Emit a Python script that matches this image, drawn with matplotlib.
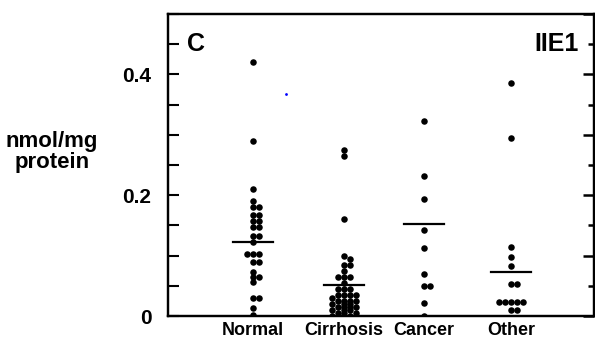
import numpy as np
import matplotlib
matplotlib.use("Agg")
import matplotlib.pyplot as plt
from matplotlib.ticker import MultipleLocator

plt.rcParams['font.family'] = ['Liberation Sans', 'DejaVu Sans']
plt.rcParams['font.weight'] = 'bold'

# Datos (nmol/mg proteina)
categorias = ["Normal", "Cirrhosis", "Cancer", "Other"]
normal = [0.42, 0.29, 0.21, 0.19, 0.18, 0.18, 0.168, 0.168, 0.157, 0.157,
          0.147, 0.147, 0.132, 0.132, 0.123, 0.102, 0.102, 0.102, 0.09, 0.09,
          0.073, 0.065, 0.065, 0.057, 0.03, 0.03, 0.013, 0.002]
cirrhosis = [0.275, 0.265, 0.16, 0.10, 0.095, 0.085, 0.085, 0.075, 0.065, 0.065,
             0.065, 0.055, 0.045, 0.045, 0.045, 0.035, 0.035, 0.035, 0.035, 0.03,
             0.025, 0.025, 0.025, 0.025, 0.02, 0.02, 0.02, 0.015, 0.015, 0.015,
             0.015, 0.01, 0.01, 0.01, 0.005, 0.005, 0.005, 0.0, 0.0]
cancer = [0.323, 0.232, 0.193, 0.143, 0.113, 0.07, 0.05, 0.05, 0.022, 0.0]
other = [0.385, 0.295, 0.115, 0.097, 0.082, 0.053, 0.053,
         0.023, 0.023, 0.023, 0.023, 0.023, 0.01, 0.01]
medias = [0.122, 0.052, 0.153, 0.073]
grupos = [normal, cirrhosis, cancer, other]

# Posiciones de las categorias en el eje x
pos = [1.0, 2.06, 3.0, 4.03]

W, H = 595, 345
fig = plt.figure(figsize=(W / 100, H / 100), dpi=100)
ax = fig.add_axes([168 / W, 29 / H, 426 / W, 302 / H])
xmin, xmax, ymin, ymax = 0, 5, 0, 0.5
ax.set_xlim(xmin, xmax)
ax.set_ylim(ymin, ymax)

px_x = 426 / (xmax - xmin)
px_y = 302 / (ymax - ymin)


def enjambre(vals, paso=6.0, choque=4.5, maxoff=15):
    # desplazamientos horizontales (en pixeles) para que los puntos no se tapen
    orden = np.argsort(vals)[::-1]
    puestos = []
    offs = np.zeros(len(vals))
    for i in orden:
        y = vals[i] * px_y
        cands = [0.0]
        k = 1
        while k * paso <= maxoff:
            cands += [k * paso, -k * paso]
            k += 1
        mejor, mejor_d = 0.0, -1
        for c in cands:
            dmin = min([np.hypot(c - ox, y - oy) for ox, oy in puestos] + [99])
            if dmin >= choque:
                mejor = c
                break
            if dmin > mejor_d:
                mejor, mejor_d = c, dmin
        puestos.append((mejor, y))
        offs[i] = mejor
    return offs


for p, vals, m in zip(pos, grupos, medias):
    vals = np.array(vals)
    xs = p + enjambre(vals) / px_x
    ax.scatter(xs, vals, s=22, color="black", zorder=3, linewidths=0)
    ax.plot([p - 20 / px_x, p + 20 / px_x], [m, m], color="black", lw=1.6, zorder=4)

# mancha azul del escaneo
ax.plot([1.39], [0.367], marker="o", ms=2, color="blue", mec="none")

for s in ax.spines.values():
    s.set_linewidth(1.6)

ax.set_xticks(pos)
ax.set_xticklabels(categorias, fontsize=13, fontweight="bold")
ax.tick_params(axis="x", length=0, pad=4)

ax.set_yticks([0, 0.2, 0.4])
ax.set_yticklabels(["0", "0.2", "0.4"], fontsize=15, fontweight="bold")
ax.yaxis.set_minor_locator(MultipleLocator(0.05))
ax.tick_params(axis="y", which="both", direction="in", length=8, width=1.5,
               left=True, right=False, pad=12)

# ticks del lado derecho
ax2 = ax.twinx()
ax2.set_ylim(ymin, ymax)
ax2.yaxis.set_major_locator(MultipleLocator(0.1))
ax2.yaxis.set_minor_locator(MultipleLocator(0.05))
ax2.tick_params(axis="y", which="major", direction="in", length=8, width=1.8, labelright=False)
ax2.tick_params(axis="y", which="minor", direction="in", length=4, width=1.8)
for s in ax2.spines.values():
    s.set_linewidth(1.6)

fig.text(52 / W, 1 - 152 / H, "nmol/mg\nprotein", fontsize=16, fontweight="bold",
         ha="center", va="center", linespacing=0.95)
ax.text(0.045, 0.9, "C", transform=ax.transAxes, fontsize=18, fontweight="bold",
        ha="left", va="center")
ax.text(0.965, 0.9, "IIE1", transform=ax.transAxes, fontsize=18, fontweight="bold",
        ha="right", va="center")

fig.savefig("out.png", dpi=100)
